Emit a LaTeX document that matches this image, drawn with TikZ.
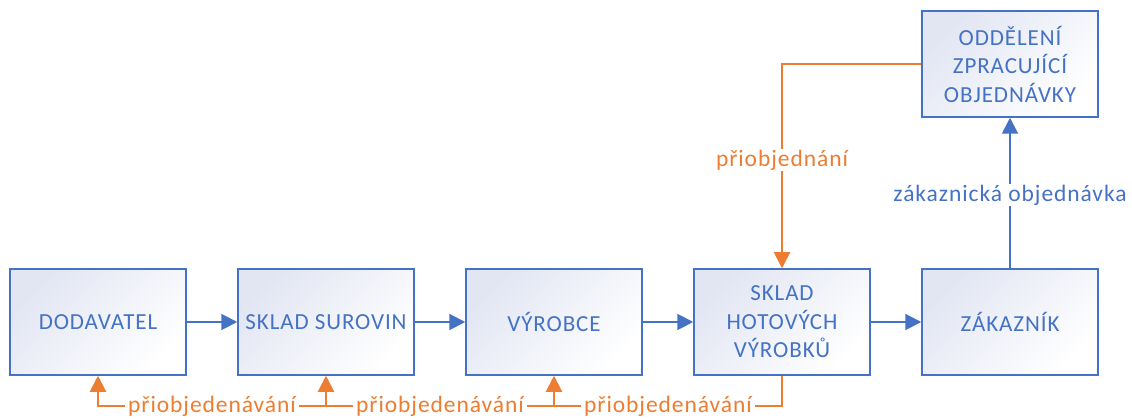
\documentclass[tikz,border=0pt]{standalone}
\usepackage{fontspec}
\setmainfont{Carlito}[LetterSpace=4]
\usetikzlibrary{arrows.meta}
\definecolor{bblue}{HTML}{4472C4}
\definecolor{oorange}{HTML}{ED7D31}
\definecolor{boxtint}{HTML}{E2E6F3}
\tikzset{
  box/.style={draw=bblue, line width=1.5pt, minimum width=176pt, minimum height=106pt,
    inner sep=0pt, align=center, text=bblue, top color=boxtint, bottom color=white,
    shading angle=45, font=\fontsize{23}{28.5}\selectfont},
  barrow/.style={draw=bblue, line width=2pt, -{Triangle[length=16pt,width=16pt]}},
  oline/.style={draw=oorange, line width=2pt},
  oarrow/.style={oline, -{Triangle[length=16pt,width=16pt]}},
  lab/.style={fill=white, inner xsep=3pt, inner ysep=1pt, font=\fontsize{23.5}{27}\selectfont}
}
\begin{document}
\begin{tikzpicture}[x=1pt,y=-1pt]
\useasboundingbox (0,0) rectangle (1132,419);
\node[box] (dod) at (98,322) {DODAVATEL};
\node[box] (sur) at (326,322) {SKLAD SUROVIN};
\node[box] (vyr) at (554,322) {VÝROBCE};
\node[box] (hot) at (782,322) {SKLAD\\HOTOVÝCH\\VÝROBKŮ};
\node[box] (zak) at (1010,322) {ZÁKAZNÍK};
\node[box] (odd) at (1010,64) {ODDĚLENÍ\\ZPRACUJÍCÍ\\OBJEDNÁVKY};
\draw[barrow] (dod.east) -- (sur.west);
\draw[barrow] (sur.east) -- (vyr.west);
\draw[barrow] (vyr.east) -- (hot.west);
\draw[barrow] (hot.east) -- (zak.west);
\draw[barrow] (zak.north) -- (odd.south);
\draw[oarrow] (odd.west) -| (hot.north);
\coordinate (bl) at (98,406);
\draw[oarrow] (hot.south) |- (bl) -- (dod.south);
\draw[oarrow] (sur.south |- bl) -- (sur.south);
\draw[oarrow] (vyr.south |- bl) -- (vyr.south);
\node[lab, text=bblue] (lz) at (1010,195) {zákaznická objednávka};
\node[lab, text=oorange] (lp) at (782,160) {přiobjednání};
\node[lab, text=oorange] (l1) at (212,406) {přiobjedenávání};
\node[lab, text=oorange] (l2) at (440,406) {přiobjedenávání};
\node[lab, text=oorange] (l3) at (668,406) {přiobjedenávání};
\end{tikzpicture}
\end{document}
